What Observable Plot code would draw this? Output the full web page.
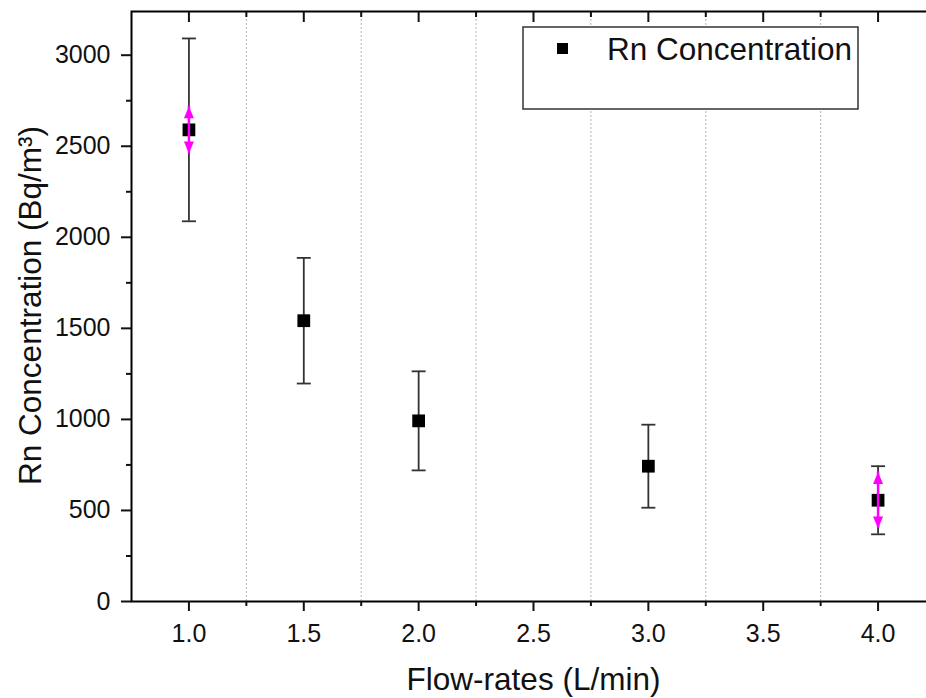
<!DOCTYPE html>
<html><head><meta charset="utf-8">
<script src="https://cdn.jsdelivr.net/npm/d3@7"></script>
<script src="https://cdn.jsdelivr.net/npm/@observablehq/plot@0.6"></script>
<style>
html,body{margin:0;padding:0;background:#fff;overflow:hidden;}
#chart svg{display:block;max-width:none !important;}
</style></head><body><div id="chart"></div>
<script>
// ---- data ----
const flowRates = [1.0, 1.5, 2.0, 3.0, 4.0];
const rnConcentration = [2590, 1542, 992, 743, 556];
const errorHalf = [502, 345, 272, 228, 187];
const arrowFlow = [1.0, 4.0];
const arrowHalf = [130, 155];
const xMajorTicks = [1.0, 1.5, 2.0, 2.5, 3.0, 3.5, 4.0];
const xMinorTicks = [1.25, 1.75, 2.25, 2.75, 3.25, 3.75];
const yMajorTicks = [0, 500, 1000, 1500, 2000, 2500, 3000];
const yMinorTicks = [250, 750, 1250, 1750, 2250, 2750];
const xTitle = "Flow-rates (L/min)";
const yTitle = "Rn Concentration (Bq/m³)";
const legendLabel = "Rn Concentration";

const points = flowRates.map((f, i) => ({flow: f, rn: rnConcentration[i], err: errorHalf[i]}));
const arrows = arrowFlow.map((f, i) => ({flow: f, rn: rnConcentration[flowRates.indexOf(f)], half: arrowHalf[i]}));

const capSymbol = {draw(ctx) { ctx.moveTo(-7, 0); ctx.lineTo(7, 0); }};
const headUp = {draw(ctx) { ctx.moveTo(0, 0); ctx.lineTo(5, 12); ctx.lineTo(-5, 12); ctx.closePath(); }};
const headDown = {draw(ctx) { ctx.moveTo(0, 0); ctx.lineTo(5, -12); ctx.lineTo(-5, -12); ctx.closePath(); }};
const blank = () => "";
const FONT = "Arial, 'Liberation Sans', sans-serif";

const plot = Plot.plot({
  width: 940,
  height: 698,
  marginLeft: 131,
  marginRight: 5,
  marginTop: 11,
  marginBottom: 97,
  style: {fontFamily: FONT, fontSize: "25px", color: "#111", background: "#fff", maxWidth: "none"},
  x: {domain: [0.75, 4.25]},
  y: {domain: [0, 3240]},
  marks: [
    Plot.gridX(xMinorTicks, {stroke: "#b5b5b5", strokeOpacity: 1, strokeDasharray: "2,2", strokeWidth: 1}),
    Plot.ruleX(points, {x: "flow", y1: d => d.rn - d.err, y2: d => d.rn + d.err, stroke: "#333", strokeWidth: 1.8}),
    Plot.dot(points, {x: "flow", y: d => d.rn + d.err, symbol: capSymbol, stroke: "#333", strokeWidth: 1.8}),
    Plot.dot(points, {x: "flow", y: d => d.rn - d.err, symbol: capSymbol, stroke: "#333", strokeWidth: 1.8}),
    Plot.dot(points, {x: "flow", y: "rn", symbol: "square", r: 7.2, fill: "black", stroke: "none"}),
    Plot.ruleX(arrows, {x: "flow", y1: d => d.rn - d.half, y2: d => d.rn + d.half, stroke: "#ff00ff", strokeWidth: 2.5}),
    Plot.dot(arrows, {x: "flow", y: d => d.rn + d.half, symbol: headUp, fill: "#ff00ff", stroke: "none"}),
    Plot.dot(arrows, {x: "flow", y: d => d.rn - d.half, symbol: headDown, fill: "#ff00ff", stroke: "none"}),
    Plot.frame({stroke: "black", strokeWidth: 2}),
    // bottom axis: outward ticks
    Plot.axisX({anchor: "bottom", ticks: xMajorTicks, tickSize: 10, tickPadding: 13, strokeWidth: 2, tickFormat: d3.format(".1f"), fontSize: 25, label: null}),
    Plot.axisX({anchor: "bottom", ticks: xMinorTicks, tickSize: 5, strokeWidth: 2, tickFormat: blank, label: null}),
    // top axis: inward ticks
    Plot.axisX({anchor: "top", ticks: xMajorTicks, tickSize: 10, dy: 10, strokeWidth: 2, tickFormat: blank, label: null}),
    Plot.axisX({anchor: "top", ticks: xMinorTicks, tickSize: 5, dy: 5, strokeWidth: 2, tickFormat: blank, label: null}),
    // left axis: outward ticks
    Plot.axisY({anchor: "left", ticks: yMajorTicks, tickSize: 10, tickPadding: 11, strokeWidth: 2, tickFormat: d3.format("d"), fontSize: 25, label: null}),
    Plot.axisY({anchor: "left", ticks: yMinorTicks, tickSize: 5, strokeWidth: 2, tickFormat: blank, label: null}),
    // right axis: inward ticks
    Plot.axisY({anchor: "right", ticks: yMajorTicks, tickSize: 10, dx: -10, strokeWidth: 2, tickFormat: blank, label: null}),
    Plot.axisY({anchor: "right", ticks: yMinorTicks, tickSize: 5, dx: -5, strokeWidth: 2, tickFormat: blank, label: null}),
    // axis titles
    Plot.text([xTitle], {frameAnchor: "bottom", dy: 88, lineAnchor: "bottom", textAnchor: "middle", fontSize: 31.5, fill: "#111"}),
    Plot.text([yTitle], {frameAnchor: "left", dx: -91, dy: -1, rotate: -90, lineAnchor: "bottom", textAnchor: "middle", fontSize: 31.5, fill: "#111"})
  ]
});
plot.style.maxWidth = "none";

// legend box inside the plot frame
const svg = d3.select(plot);
const g = svg.append("g").attr("class", "legend");
g.append("rect").attr("x", 523).attr("y", 27).attr("width", 335).attr("height", 82)
  .attr("fill", "#fff").attr("stroke", "#333").attr("stroke-width", 1.5);
g.append("rect").attr("x", 557).attr("y", 43).attr("width", 11).attr("height", 11).attr("fill", "black");
g.append("text").attr("x", 607).attr("y", 60).attr("font-size", 31.5).attr("fill", "#111")
  .attr("text-anchor", "start")
  .attr("font-family", FONT).text(legendLabel);

document.getElementById("chart").appendChild(plot);
</script>
</body></html>
